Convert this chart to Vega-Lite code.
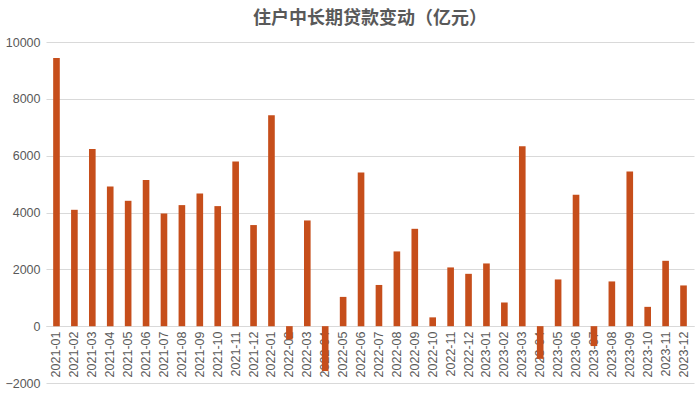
{
  "$schema": "https://vega.github.io/schema/vega-lite/v6.json",
  "width": 648,
  "height": 341,
  "autosize": {"type": "none"},
  "padding": {"left": 46, "top": 42, "right": 6, "bottom": 11},
  "background": "white",
  "title": {
    "text": "住户中长期贷款变动（亿元）",
    "font": "Noto Sans CJK SC",
    "fontSize": 18,
    "fontWeight": "bold",
    "color": "#595959",
    "anchor": "middle",
    "offset": 8
  },
  "config": {
    "view": {"stroke": null},
    "axis": {"labelFont": "Liberation Sans", "labelColor": "#595959", "labelFontSize": 12.5}
  },
  "data": {
    "values": [
      {"month": "2021-01", "value": 9437},
      {"month": "2021-02", "value": 4095},
      {"month": "2021-03", "value": 6231},
      {"month": "2021-04", "value": 4914},
      {"month": "2021-05", "value": 4412},
      {"month": "2021-06", "value": 5141},
      {"month": "2021-07", "value": 3965},
      {"month": "2021-08", "value": 4260},
      {"month": "2021-09", "value": 4670},
      {"month": "2021-10", "value": 4225},
      {"month": "2021-11", "value": 5796},
      {"month": "2021-12", "value": 3558},
      {"month": "2022-01", "value": 7420},
      {"month": "2022-02", "value": -470},
      {"month": "2022-03", "value": 3720},
      {"month": "2022-04", "value": -1580},
      {"month": "2022-05", "value": 1030},
      {"month": "2022-06", "value": 5412},
      {"month": "2022-07", "value": 1450},
      {"month": "2022-08", "value": 2630},
      {"month": "2022-09", "value": 3426},
      {"month": "2022-10", "value": 310},
      {"month": "2022-11", "value": 2067},
      {"month": "2022-12", "value": 1842},
      {"month": "2023-01", "value": 2207},
      {"month": "2023-02", "value": 833},
      {"month": "2023-03", "value": 6327},
      {"month": "2023-04", "value": -1150},
      {"month": "2023-05", "value": 1644},
      {"month": "2023-06", "value": 4623},
      {"month": "2023-07", "value": -700},
      {"month": "2023-08", "value": 1574},
      {"month": "2023-09", "value": 5447},
      {"month": "2023-10", "value": 680},
      {"month": "2023-11", "value": 2300},
      {"month": "2023-12", "value": 1433}
    ]
  },
  "mark": {"type": "bar", "color": "#C64E1B"},
  "encoding": {
    "x": {
      "field": "month",
      "type": "ordinal",
      "sort": null,
      "scale": {"paddingInner": 0.63, "paddingOuter": 0.4},
      "axis": {
        "title": null,
        "labelAngle": 270,
        "labelAlign": "right",
        "labelBaseline": "middle",
        "ticks": false,
        "labelPadding": 5,
        "offset": -57,
        "domain": true,
        "domainColor": "#D9D9D9"
      }
    },
    "y": {
      "field": "value",
      "type": "quantitative",
      "scale": {"domain": [-2000, 10000], "nice": false, "zero": false},
      "axis": {
        "title": null,
        "format": "d",
        "values": [-2000, 0, 2000, 4000, 6000, 8000, 10000],
        "ticks": false,
        "domain": false,
        "labelPadding": 6,
        "gridColor": "#D9D9D9",
        "gridWidth": 1
      }
    }
  }
}
